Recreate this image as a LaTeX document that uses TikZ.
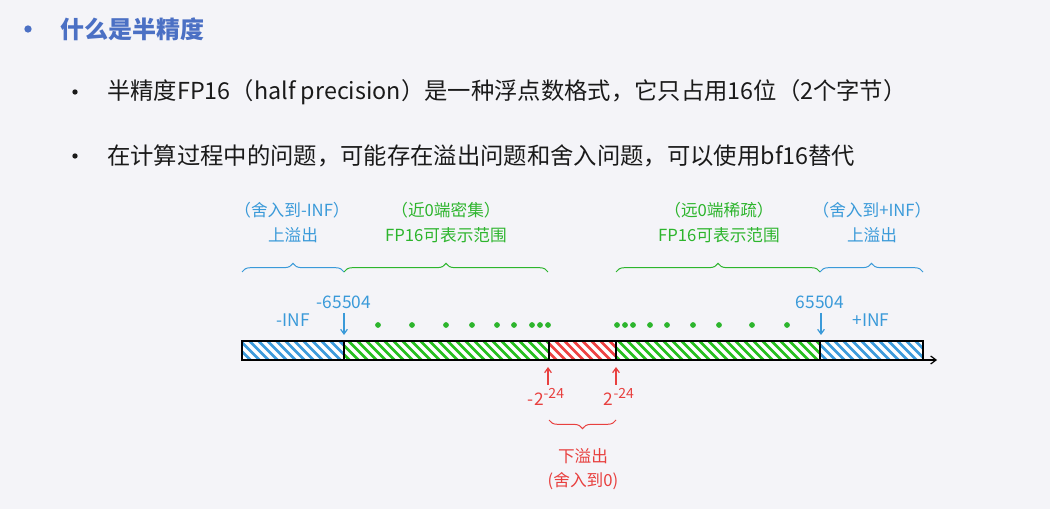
\documentclass[tikz,border=0pt]{standalone}
\usepackage{fontspec}
\setmainfont{Noto Sans CJK SC}
\usetikzlibrary{decorations.pathreplacing,arrows.meta}
\definecolor{bgc}{HTML}{F4F4F8}
\definecolor{titlec}{HTML}{4B70C4}
\definecolor{txtc}{HTML}{1A1A1A}
\definecolor{bluc}{HTML}{3A9AD9}
\definecolor{grnc}{HTML}{2DB52D}
\definecolor{redc}{HTML}{E8403F}
\definecolor{bluf}{HTML}{3D9BDB}
\definecolor{grnf}{HTML}{27BF1F}
\definecolor{redf}{HTML}{EE4242}
\tikzset{
  body/.style={anchor=west,inner sep=0pt,text=txtc,font=\fontsize{17.5pt}{20pt}\selectfont},
  bul/.style={circle,fill=#1,inner sep=0pt,minimum size=5.5pt},
  lab/.style={inner sep=0pt,font=\fontsize{12.5pt}{15pt}\selectfont,text=#1},
  num/.style={inner sep=0pt,font=\fontsize{13pt}{15pt}\selectfont,text=#1},
  brc/.style={draw=#1,line width=0.75pt,decorate,decoration={brace,amplitude=6.5pt,raise=0pt}},
  dot/.style={circle,fill=grnc,inner sep=0pt,minimum size=4.3pt},
  tick/.style={draw=#1,line width=0.9pt,-{Straight Barb[length=3.5pt,width=5pt]}},
}
\newcommand{\hatchseg}[3]{%
  \begin{scope}
    \clip (#1,341) rectangle (#2,360);
    \fill[#3] (#1,341) rectangle (#2,360);
    \foreach \s in {200,209,...,940} \draw[white,line width=2.4pt] (\s,341) -- (\s+19,360);
  \end{scope}
  \draw[black,line width=1.3pt] (#1,341) rectangle (#2,360);
}
\begin{document}
\begin{tikzpicture}[x=0.75pt,y=-0.75pt]
\fill[bgc] (0,0) rectangle (1050,509);
\useasboundingbox (0,0) rectangle (1050,509);
% header
\node[bul=titlec] (b0) at (28,29) {};
\node[anchor=west,inner sep=0pt,text=titlec,font=\fontsize{18pt}{20pt}\selectfont\bfseries] (title) at (60,29) {什么是半精度};
\node[bul=txtc,minimum size=4pt] (b1) at (75,92) {};
\node[body] (t1) at (107,92) {半精度FP16（half precision）是一种浮点数格式，它只占用16位（2个字节）};
\node[bul=txtc,minimum size=4pt] (b2) at (75,156) {};
\node[body] (t2) at (107,156) {在计算过程中的问题，可能存在溢出问题和舍入问题，可以使用bf16替代};
% bar
\hatchseg{242}{344}{bluf}
\hatchseg{344}{549}{grnf}
\hatchseg{549}{616}{redf}
\hatchseg{616}{820}{grnf}
\hatchseg{820}{923}{bluf}
\coordinate (ax0) at (242,360);
\coordinate (ax1) at (937,360);
\draw[line width=0.9pt,-{Straight Barb[length=4pt,width=6pt]}] (ax0) -- (ax1);
% top braces
\coordinate (bl1) at (242,272); \coordinate (bl2) at (344,272);
\coordinate (gl1) at (344,272); \coordinate (gl2) at (548,272);
\coordinate (gr1) at (616,272); \coordinate (gr2) at (820,272);
\coordinate (br1) at (820,272); \coordinate (br2) at (923,272);
\draw[brc=bluc] (bl1) -- (bl2);
\draw[brc=grnc] (gl1) -- (gl2);
\draw[brc=grnc] (gr1) -- (gr2);
\draw[brc=bluc] (br1) -- (br2);
% labels above
\node[lab=bluc] (l1a) at (292,210) {（舍入到-INF）};
\node[lab=bluc] (l1b) at (293,235) {上溢出};
\node[lab=grnc] (l2a) at (446,210) {（近0端密集）};
\node[lab=grnc] (l2b) at (446,235) {FP16可表示范围};
\node[lab=grnc] (l3a) at (719,210) {（远0端稀疏）};
\node[lab=grnc] (l3b) at (719,235) {FP16可表示范围};
\node[lab=bluc] (l4a) at (872,210) {（舍入到+INF）};
\node[lab=bluc] (l4b) at (872,235) {上溢出};
% numbers
\node[num=bluc] (nm) at (344,302) {-65504};
\node[num=bluc] (ninf) at (293,320) {-INF};
\node[num=bluc] (np) at (820,302) {65504};
\node[num=bluc] (pinf) at (871,320) {+INF};
\coordinate (am0) at (344,313); \coordinate (am1) at (344,335);
\coordinate (ap0) at (821,313); \coordinate (ap1) at (821,335);
\draw[tick=bluc] (am0) -- (am1);
\draw[tick=bluc] (ap0) -- (ap1);
% dots
\foreach \x [count=\i] in {378,412,446,472,497,514,532,540,548} \node[dot] (dl\i) at (\x,325) {};
\foreach \x [count=\i] in {617,625,633,650,667,693,719,752,787} \node[dot] (dr\i) at (\x,325) {};
% red arrows
\coordinate (rl0) at (548,385); \coordinate (rl1) at (548,367);
\coordinate (rr0) at (616,385); \coordinate (rr1) at (616,367);
\draw[tick=redc] (rl0) -- (rl1);
\draw[tick=redc] (rr0) -- (rr1);
\node[num=redc] (nl) at (546,397) {-2\raisebox{0.42em}{\fontsize{10.5pt}{11pt}\selectfont -24}};
\node[num=redc] (nr) at (619,397) {2\raisebox{0.42em}{\fontsize{10.5pt}{11pt}\selectfont -24}};
\coordinate (rb1) at (616,420); \coordinate (rb2) at (549,420);
\draw[brc=redc] (rb1) -- (rb2);
\node[lab=redc] (u1) at (583,456) {下溢出};
\node[lab=redc] (u2) at (583,481) {(舍入到0)};
\end{tikzpicture}
\end{document}
